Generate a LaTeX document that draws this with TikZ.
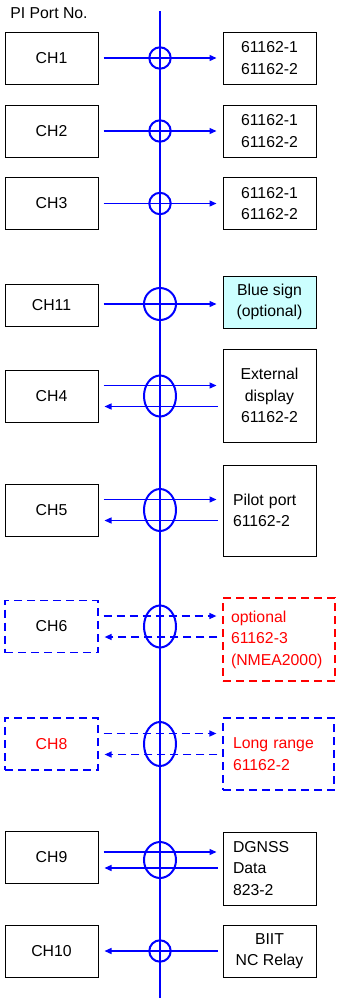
\documentclass[tikz,border=0pt]{standalone}
\usepackage{fontspec}
\setmainfont{Liberation Sans}
\usepackage{tikz}
\usetikzlibrary{arrows.meta, calc}
\definecolor{Wire}{HTML}{0000FF}
\definecolor{Opt} {HTML}{FF0000}
\definecolor{Sign}{HTML}{CCFFFF}
\tikzset{
  lbl/.style={font=\fontsize{15.8pt}{21.5pt}\selectfont},
  chbox/.style={lbl, draw, line width=1pt, inner sep=0pt, align=center,
                minimum width=93pt, minimum height=52pt},
  devbox/.style={lbl, draw, line width=1pt, inner sep=0pt, align=center,
                 minimum width=93pt, minimum height=52pt},
  leftbox/.style={align=left, text width=73pt, inner xsep=10pt},
  optbox/.style={dash pattern=on 8pt off 5pt, line width=1.2pt},
  link/.style={Wire, line width=1.3pt, -{Triangle[length=7pt,width=6pt]},
               shorten <=5pt, shorten >=6pt},
  optlink/.style={link, dash pattern=on 8pt off 5pt},
  ring/.style={Wire, line width=2pt},
  spine/.style={Wire, line width=2pt}
}

\begin{document}
\begin{tikzpicture}[x=1pt, y=-1pt]
  \useasboundingbox (0,0) rectangle (337,1001);
  \node[lbl] (title) at (49,13) {PI Port No.};
  \coordinate (top) at (160,11);
  \coordinate (bot) at (160,998);

  % ports on the left
  \node[chbox] (C1)  at (51.5,58)    {CH1};
  \node[chbox] (C2)  at (51.5,131)   {CH2};
  \node[chbox] (C3)  at (51.5,203.5) {CH3};
  \node[chbox,minimum height=42pt] (C11) at (51.5,305) {CH11};
  \node[chbox] (C4)  at (51.5,396)   {CH4};
  \node[chbox] (C5)  at (51.5,510)   {CH5};
  \node[chbox,optbox,draw=Wire] (C6) at (51.5,626.5) {CH6};
  \node[chbox,optbox,draw=Wire,text=Opt] (C8) at (51.5,744) {CH8};
  \node[chbox] (C9)  at (51.5,857.5) {CH9};
  \node[chbox] (C10) at (51.5,951)   {CH10};

  % equipment on the right
  \node[devbox] (R1) at (269.5,58)    {61162-1\\61162-2};
  \node[devbox] (R2) at (269.5,131)   {61162-1\\61162-2};
  \node[devbox] (R3) at (269.5,203.5) {61162-1\\61162-2};
  \node[devbox,fill=Sign] (R11) at (269.5,302) {Blue sign\\(optional)};
  \node[devbox,minimum height=93pt] (R4) at (269.5,395.5) {External\\display\\61162-2};
  \node[devbox,leftbox,minimum height=91pt] (R5) at (269.5,510.5) {Pilot port\\61162-2};
  \node[devbox,optbox,draw=Opt,text=Opt,align=left,text width=96pt,inner xsep=8pt,
        minimum height=83pt] (R6) at (279,639.5) {optional\\61162-3\\(NMEA2000)};
  \node[devbox,optbox,draw=Wire,text=Opt,align=left,text width=91pt,inner xsep=10pt,
        minimum height=72pt] (R8) at (278.5,754) {Long range\\61162-2};
  \node[devbox,leftbox,minimum height=73pt] (R9) at (269.5,868.5) {DGNSS\\Data\\823-2};
  \node[devbox] (R10) at (269.5,951) {BIIT\\NC Relay};

  \draw[spine] (top) -- (bot);

  % single links
  \draw[link] (C1.east) -- (R1.west);
  \draw[link] (C2.east) -- (R2.west);
  \draw[link] (C3.east) -- (R3.west);
  \draw[link] ([yshift=1pt]C11.east) -- ([yshift=1pt]R11.west |- C11.east);
  \draw[link] (R10.west) -- (C10.east);
  \foreach \n in {C1,C2,C3,C10}
    \draw[ring] (top |- \n) circle [radius=10.7pt];
  \draw[ring] ([yshift=1pt]top |- C11) circle [radius=16pt];

  % two-way links
  \foreach \n/\m/\ry/\s in {C4/R4/20.5/link, C5/R5/21/link, C6/R6/21/optlink, C8/R8/22/optlink} {
    \draw[\s] ([yshift=10.5pt]\n.east) -- ([yshift=10.5pt]\m.west |- \n.east);
    \draw[\s] ([yshift=-10.5pt]\m.west |- \n.east) -- ([yshift=-10.5pt]\n.east);
    \draw[ring] (top |- \n) ellipse [x radius=16pt, y radius=\ry pt];
  }
  \draw[link] ([yshift=5.5pt]C9.east) -- ([yshift=5.5pt]R9.west |- C9.east);
  \draw[link] ([yshift=-10.5pt]R9.west |- C9.east) -- ([yshift=-10.5pt]C9.east);
  \draw[ring] ([yshift=-2.5pt]top |- C9) ellipse [x radius=16pt, y radius=18pt];
\end{tikzpicture}
\end{document}
